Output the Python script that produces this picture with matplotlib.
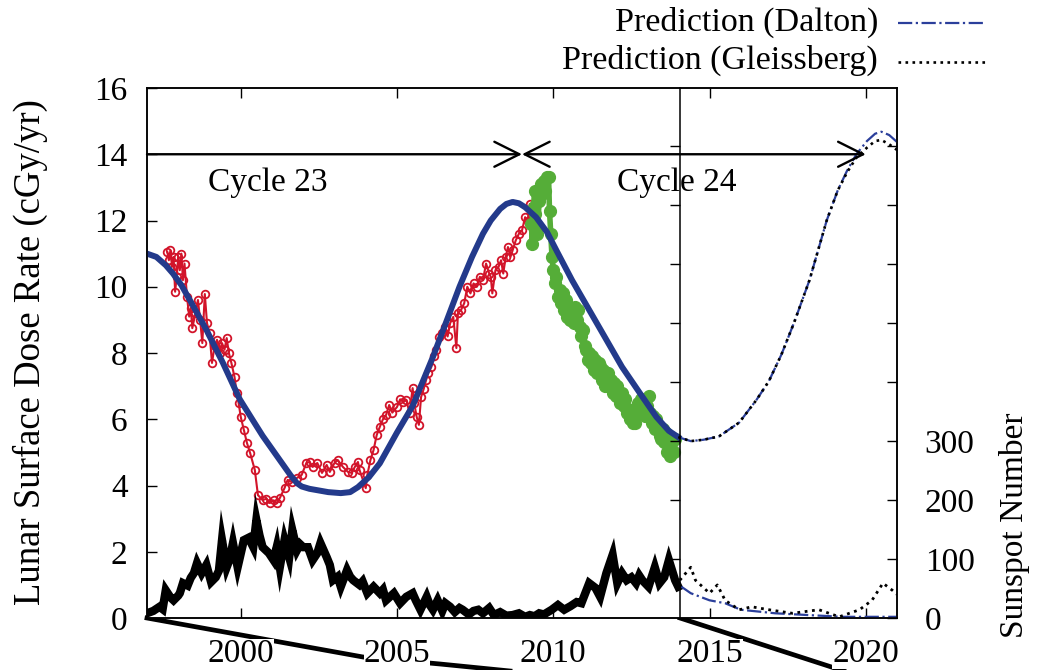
import numpy as np
import matplotlib
matplotlib.use('Agg')
import matplotlib.pyplot as plt
from matplotlib.lines import Line2D

plt.rcParams['font.family'] = ['Liberation Serif', 'DejaVu Serif']

# measured dose rate, cycle 23 (red, open circles)
red_year = [1997.65, 1997.7, 1997.75, 1997.8, 1997.85, 1997.9, 1997.95, 1998.0, 1998.05, 1998.1,
            1998.15, 1998.2, 1998.28, 1998.35, 1998.4, 1998.45, 1998.55, 1998.63, 1998.7, 1998.77,
            1998.85, 1998.92, 1999.0, 1999.08, 1999.16, 1999.24, 1999.32, 1999.4, 1999.48, 1999.55,
            1999.62, 1999.7, 1999.8, 1999.87, 1999.93, 2000.0, 2000.1, 2000.2, 2000.3, 2000.45,
            2000.55, 2000.7, 2000.82, 2000.93, 2001.05, 2001.15, 2001.25, 2001.4, 2001.5, 2001.65,
            2001.8, 2001.95, 2002.1, 2002.2, 2002.3, 2002.45, 2002.6, 2002.75, 2002.85, 2003.0,
            2003.1, 2003.27, 2003.43, 2003.55, 2003.65, 2003.75, 2003.8, 2004.0, 2004.05, 2004.15,
            2004.25, 2004.35, 2004.45, 2004.55, 2004.65, 2004.75, 2004.85, 2005.0, 2005.1, 2005.2,
            2005.3, 2005.4, 2005.5, 2005.55, 2005.63, 2005.7, 2005.77, 2005.85, 2005.93, 2006.0,
            2006.1, 2006.18, 2006.25, 2006.35, 2006.45, 2006.55, 2006.62, 2006.7, 2006.8, 2006.9,
            2006.95, 2007.05, 2007.15, 2007.25, 2007.35, 2007.45, 2007.55, 2007.65, 2007.75, 2007.85,
            2007.95, 2008.0, 2008.05, 2008.15, 2008.25, 2008.33, 2008.4, 2008.48, 2008.55, 2008.63,
            2008.7, 2008.8, 2008.9, 2009.0, 2009.1, 2009.18, 2009.25, 2009.3]
red_dose = [11.05, 10.8, 11.1, 10.6, 10.9, 9.85, 10.3, 10.9, 10.5, 11.0,
            10.2, 10.7, 9.7, 9.1, 9.36, 8.75, 9.2, 9.6, 9.0, 8.3,
            9.78, 8.9, 8.6, 7.7, 8.2, 8.4, 8.0, 8.3, 8.1, 8.45,
            8.0, 7.7, 7.28, 6.8, 6.5, 6.07, 5.68, 5.28, 4.98, 4.47,
            3.71, 3.56, 3.6, 3.47, 3.55, 3.47, 3.62, 3.92, 4.17, 4.1,
            4.23, 4.32, 4.68, 4.71, 4.56, 4.68, 4.38, 4.62, 4.41, 4.68,
            4.77, 4.56, 4.41, 4.38, 4.56, 4.71, 4.47, 3.92, 4.32, 4.77,
            5.07, 5.52, 5.77, 6.0, 6.13, 6.43, 6.2, 6.37, 6.6, 6.52,
            6.58, 6.19, 6.94, 6.49, 6.07, 5.83, 6.67, 6.9, 7.18, 7.4,
            7.58, 7.9, 8.09, 8.48, 8.6, 8.78, 8.5, 8.9, 9.09, 8.15,
            9.2, 9.3, 9.5, 10.0, 9.8, 10.1, 10.0, 10.3, 10.2, 10.7,
            10.4, 10.3, 9.8, 10.5, 10.6, 10.8, 10.4, 10.9, 11.2, 10.9,
            11.1, 11.4, 11.6, 11.7, 12.1, 12.0, 12.5, 12.3]

# measured dose rate, cycle 24 (green, filled circles)
green_year = [2009.3, 2009.33, 2009.37, 2009.4, 2009.43, 2009.47, 2009.5, 2009.55, 2009.6, 2009.65,
              2009.7, 2009.75, 2009.8, 2009.85, 2009.88, 2009.92, 2009.96, 2010.0, 2010.05, 2010.1,
              2010.15, 2010.2, 2010.25, 2010.3, 2010.35, 2010.4, 2010.45, 2010.5, 2010.55, 2010.6,
              2010.65, 2010.7, 2010.75, 2010.8, 2010.85, 2010.9, 2010.95, 2011.0, 2011.05, 2011.1,
              2011.15, 2011.2, 2011.25, 2011.3, 2011.35, 2011.4, 2011.45, 2011.5, 2011.55, 2011.6,
              2011.65, 2011.7, 2011.75, 2011.8, 2011.85, 2011.9, 2011.95, 2012.0, 2012.05, 2012.1,
              2012.15, 2012.2, 2012.25, 2012.3, 2012.35, 2012.4, 2012.45, 2012.5, 2012.55, 2012.6,
              2012.65, 2012.7, 2012.75, 2012.8, 2012.85, 2012.9, 2012.95, 2013.0, 2013.05, 2013.1,
              2013.15, 2013.2, 2013.25, 2013.3, 2013.35, 2013.4, 2013.45, 2013.5, 2013.55, 2013.6,
              2013.65, 2013.7, 2013.75, 2013.8, 2013.85, 2013.9]
green_dose = [11.9, 11.3, 12.4, 12.9, 12.2, 11.6, 11.8, 12.6, 13.1, 12.8,
              13.2, 12.9, 13.3, 13.3, 12.3, 11.6, 10.9, 10.5, 10.1, 10.3,
              9.7, 9.9, 9.5, 9.8, 9.3, 9.6, 9.1, 9.4, 9.0, 9.3,
              8.9, 9.4, 9.0, 9.3, 8.8, 8.5, 8.7, 8.2, 8.1, 7.8,
              8.0, 7.7, 7.9, 7.5, 7.8, 7.4, 7.7, 7.6, 7.2, 7.5,
              7.0, 7.1, 7.4, 7.0, 7.2, 6.8, 7.1, 6.7, 7.0, 6.8,
              6.5, 6.8, 6.4, 6.6, 6.2, 6.3, 6.0, 6.2, 5.9, 5.9,
              6.2, 6.5, 6.3, 6.6, 6.2, 6.5, 6.1, 6.4, 6.7, 6.2,
              5.9, 6.1, 5.7, 6.0, 5.8, 5.5, 5.4, 5.7, 5.3, 5.6,
              5.0, 5.5, 4.9, 5.3, 5.0, 5.4]

# model dose rate (blue)
model_year = [1997.0, 1997.3, 1997.6, 1997.83, 1998.1, 1998.4, 1998.9, 1999.43, 1999.97, 2000.4,
              2000.7, 2001.0, 2001.3, 2001.6, 2001.8, 2001.95, 2002.2, 2002.5, 2002.8, 2003.2,
              2003.5, 2003.75, 2004.1, 2004.45, 2005.0, 2005.5, 2006.15, 2006.6, 2007.0, 2007.4,
              2007.75, 2008.0, 2008.3, 2008.5, 2008.7, 2008.9, 2009.1, 2009.45, 2009.8, 2010.1,
              2010.6, 2011.15, 2011.7, 2012.2, 2012.8, 2013.3, 2013.7, 2014.0]
model_dose = [11.0, 10.9, 10.65, 10.4, 10.05, 9.55, 8.7, 7.7, 6.6, 5.95,
              5.5, 5.1, 4.7, 4.3, 4.07, 3.97, 3.9, 3.85, 3.8, 3.77,
              3.8, 3.95, 4.25, 4.67, 5.6, 6.4, 7.88, 9.0, 10.0, 10.9,
              11.6, 12.0, 12.35, 12.5, 12.56, 12.52, 12.4, 12.1, 11.65, 11.1,
              10.2, 9.3, 8.4, 7.58, 6.75, 6.07, 5.65, 5.46]

# predicted dose rate
pred_year = [2014.0, 2014.4, 2014.8, 2015.3, 2015.95, 2016.5, 2016.9, 2017.3, 2017.7, 2018.2,
             2018.75, 2019.1, 2019.4, 2019.7, 2020.04, 2020.3, 2020.5, 2020.75, 2021.0]
dalton_dose = [5.46, 5.34, 5.38, 5.48, 5.9, 6.58, 7.15, 7.95, 8.9, 10.2,
               12.0, 12.9, 13.5, 14.0, 14.4, 14.62, 14.68, 14.58, 14.37]
gleiss_dose = [5.46, 5.34, 5.38, 5.48, 5.9, 6.58, 7.15, 7.95, 8.9, 10.2,
               12.0, 12.9, 13.45, 13.9, 14.2, 14.4, 14.43, 14.3, 14.13]

# sunspot number (black)
ssn_year = [1997.0, 1997.2, 1997.4, 1997.5, 1997.6, 1997.75, 1997.85, 1998.0, 1998.05, 1998.15,
            1998.3, 1998.4, 1998.5, 1998.6, 1998.75, 1998.9, 1999.05, 1999.2, 1999.3, 1999.4,
            1999.55, 1999.65, 1999.75, 1999.9, 2000.1, 2000.25, 2000.4, 2000.5, 2000.6, 2000.7,
            2000.9, 2001.05, 2001.15, 2001.25, 2001.4, 2001.55, 2001.65, 2001.8, 2001.9, 2002.0,
            2002.15, 2002.3, 2002.45, 2002.55, 2002.75, 2002.85, 2002.95, 2003.1, 2003.2, 2003.4,
            2003.5, 2003.6, 2003.8, 2003.9, 2004.05, 2004.25, 2004.45, 2004.55, 2004.65, 2004.9,
            2005.1, 2005.3, 2005.5, 2005.6, 2005.75, 2005.95, 2006.05, 2006.15, 2006.3, 2006.45,
            2006.55, 2006.7, 2006.85, 2007.0, 2007.1, 2007.3, 2007.45, 2007.6, 2007.75, 2007.95,
            2008.1, 2008.3, 2008.5, 2008.7, 2008.9, 2009.1, 2009.25, 2009.4, 2009.55, 2009.7,
            2009.95, 2010.15, 2010.35, 2010.55, 2010.75, 2010.9, 2011.15, 2011.35, 2011.5, 2011.7,
            2011.9, 2012.05, 2012.2, 2012.35, 2012.5, 2012.65, 2012.75, 2012.85, 2013.05, 2013.25,
            2013.4, 2013.55, 2013.7, 2013.9, 2014.0]
ssn = [8, 12, 19, 15, 47, 35, 30, 38, 42, 59,
       55, 68, 76, 93, 76, 90, 61, 69, 80, 132,
       86, 100, 127, 86, 132, 136, 120, 166, 140, 120,
       110, 98, 120, 86, 132, 103, 149, 115, 125, 120,
       120, 98, 110, 127, 103, 90, 64, 70, 53, 81,
       70, 64, 56, 62, 42, 53, 42, 48, 30, 42,
       25, 36, 42, 30, 14, 36, 22, 14, 30, 12,
       25, 19, 10, 17, 14, 6, 12, 14, 8, 17,
       5, 10, 4, 5, 8, 2, 5, 3, 8, 6,
       14, 22, 14, 20, 27, 25, 59, 51, 36, 76,
       107, 59, 76, 64, 69, 59, 72, 64, 53, 86,
       59, 69, 98, 64, 53]

# predicted sunspot number
gl_ssn_year = [2014.05, 2014.4, 2014.55, 2015.0, 2015.25, 2015.5, 2015.95, 2016.35, 2016.9, 2017.65,
               2018.5, 2019.15, 2019.8, 2020.2, 2020.55, 2020.85, 2021.0]
gl_ssn = [64, 86, 64, 42, 56, 30, 14, 19, 14, 8,
          14, 2, 14, 30, 59, 47, 40]
da_ssn_year = [2014.1, 2014.4, 2015.0, 2015.5, 2016.0, 2017.1, 2018.15, 2019.25, 2020.85, 2021.0]
da_ssn = [53, 42, 30, 25, 14, 8, 5, 2, 2, 2]

W, H = 1039, 670
FS = 24


def fx(px):
    return px / W


def fy(py):
    return 1 - py / H


fig = plt.figure(figsize=(W / 100, H / 100), dpi=100)
ax = fig.add_axes([fx(147), fy(618), (897 - 147) / W, (618 - 88) / H])

ax.plot(red_year, red_dose, '-o', color='#d2142a', lw=1.5, ms=5.5, mfc='none', mew=1.3, zorder=3)
ax.plot(green_year, green_dose, '-o', color='#55ad38', lw=4, ms=8.5, mec='#55ad38', zorder=3)
ax.plot(model_year, model_dose, '-', color='#233a8b', lw=4.3, zorder=4)
ax.plot(pred_year, dalton_dose, '-.', color='#2b3f9b', lw=1.6, zorder=4)
ax.plot(pred_year, gleiss_dose, ':', color='black', lw=1.9, zorder=4)

ax.set_xlim(1997.0, 2021.0)
ax.set_ylim(0, 16)
ax.set_xticks([2000, 2005, 2010, 2015, 2020])
ax.set_yticks(range(0, 17, 2))
ax.tick_params(direction='in', length=7, width=1, labelsize=FS, top=True, right=False)
ax.tick_params(axis='y', pad=14)
ax.tick_params(axis='x', pad=15)
for lab in ax.get_xticklabels():
    lab.set_bbox(dict(facecolor='white', edgecolor='none', pad=0))
for s in ax.spines.values():
    s.set_linewidth(1.1)

# cycle arrows
ax.annotate('', xy=(2009.0, 14), xytext=(1997.0, 14),
            arrowprops=dict(arrowstyle='->,head_length=1.8,head_width=0.9', lw=1.7,
                            color='black', mutation_scale=10, shrinkA=0, shrinkB=0), zorder=5)
ax.annotate('', xy=(2020.0, 14), xytext=(2009.0, 14),
            arrowprops=dict(arrowstyle='<->,head_length=1.8,head_width=0.9', lw=1.7,
                            color='black', mutation_scale=10, shrinkA=0, shrinkB=0), zorder=5)
ax.text(2000.85, 13.15, 'Cycle 23', fontsize=FS, ha='center', va='center')
ax.text(2013.95, 13.15, 'Cycle 24', fontsize=FS, ha='center', va='center',
        bbox=dict(facecolor='white', edgecolor='none', pad=0))

# sunspot axis
ax2 = ax.twinx()
ax2.plot(ssn_year, ssn, '-', color='black', lw=6, solid_joinstyle='miter')
ax2.plot(da_ssn_year, da_ssn, '-.', color='#2b3f9b', lw=1.6)
ax2.plot(gl_ssn_year, gl_ssn, ':', color='black', lw=2.0)
ax2.set_ylim(0, 898)
ax2.set_xlim(1997.0, 2021.0)
ax2.set_yticks(range(0, 900, 100))
ax2.set_yticklabels(['0', '100', '200', '300', '', '', '', '', ''])
ax2.tick_params(direction='in', length=7, width=1, labelsize=FS, pad=20)
for s in ax2.spines.values():
    s.set_linewidth(1.1)

# inner prediction panel left edge
ax3 = fig.add_axes([fx(680), fy(618), (897 - 680) / W, (618 - 88) / H])
ax3.patch.set_visible(False)
for k in ['top', 'right', 'bottom']:
    ax3.spines[k].set_visible(False)
ax3.spines['left'].set_linewidth(1.1)
ax3.set_ylim(0, 898)
ax3.set_yticks(range(100, 900, 100))
ax3.set_yticklabels([])
ax3.set_xticks([])
ax3.tick_params(direction='out', length=7, width=1)

fig.text(fx(30), fy(352), 'Lunar Surface Dose Rate (cGy/yr)', rotation=90,
         fontsize=26.5, ha='center', va='center')
fig.text(fx(1014), fy(525), 'Sunspot Number', rotation=90,
         fontsize=24, ha='center', va='center')

# legend
fig.text(fx(878), fy(22), 'Prediction (Dalton)', fontsize=24.5, ha='right', va='center')
fig.text(fx(878), fy(60), 'Prediction (Gleissberg)', fontsize=24.5, ha='right', va='center')
fig.add_artist(Line2D([fx(898), fx(985)], [fy(23), fy(23)], ls='-.', color='#2b3f9b', lw=1.6))
fig.add_artist(Line2D([fx(898), fx(985)], [fy(62), fy(62)], ls=':', color='black', lw=1.9))

# zoom connector lines under the axis
fig.add_artist(Line2D([fx(147), fx(363), fx(440), fx(530)], [fy(618), fy(657), fy(664), fy(673)],
                      color='black', lw=3.4, zorder=-1))
fig.add_artist(Line2D([fx(680), fx(850)], [fy(618), fy(673)], color='black', lw=3.4, zorder=-1))

fig.savefig('out.png', dpi=100)
